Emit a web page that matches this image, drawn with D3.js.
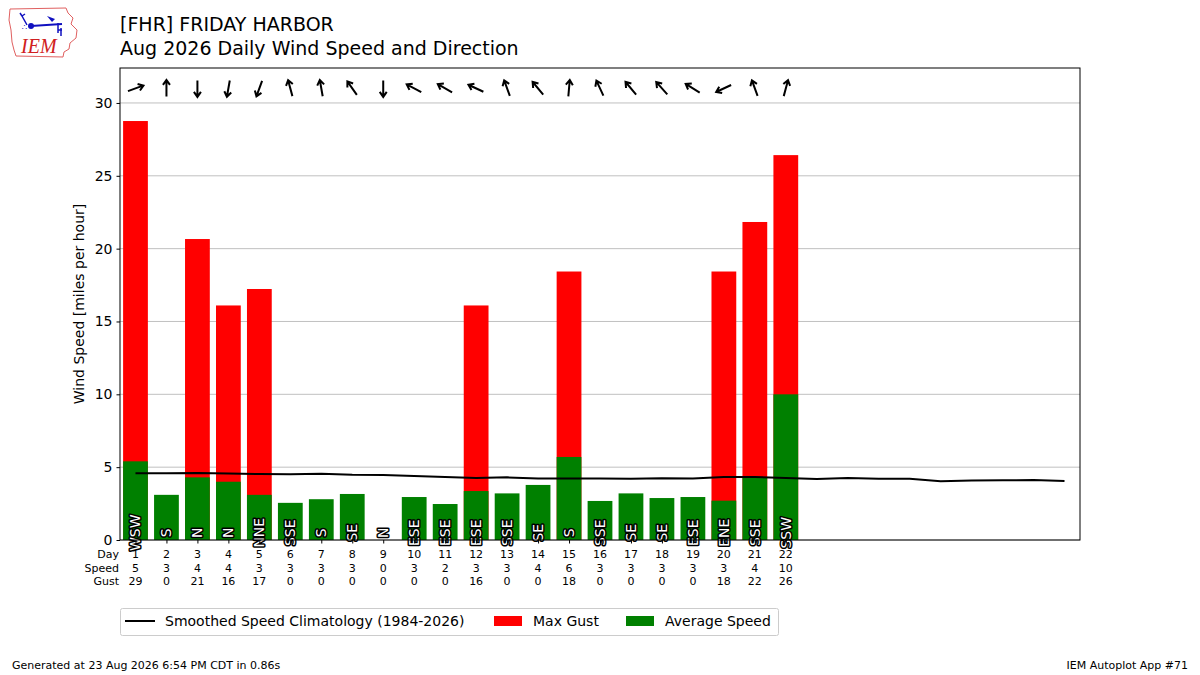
<!DOCTYPE html>
<html>
<head>
<meta charset="utf-8">
<script src="https://cdn.jsdelivr.net/npm/d3@7"></script>
<style>
  body { margin: 0; background: #fff; }
  svg { font-family: "DejaVu Sans", sans-serif; }
</style>
</head>
<body>
<div id="chart"></div>
<script>
// daily observations, Aug 2026
const days = [1, 2, 3, 4, 5, 6, 7, 8, 9, 10, 11, 12, 13, 14, 15, 16, 17, 18, 19, 20, 21, 22];
const avgSpeed = [5.4, 3.1, 4.3, 4.0, 3.1, 2.55, 2.8, 3.16, 0, 2.95, 2.47, 3.36, 3.2, 3.78, 5.7, 2.68, 3.2, 2.88, 2.95, 2.7, 4.3, 10.0];
const maxGust = [28.76, 0, 20.66, 16.1, 17.23, 0, 0, 0, 0, 0, 0, 16.1, 0, 0, 18.43, 0, 0, 0, 0, 18.43, 21.83, 26.42];
const windDir = [250, 180, 0, 10, 20, 165, 170, 145, 0, 118, 120, 115, 160, 140, 185, 155, 140, 138, 122, 65, 160, 195];
const dirLabels = ["WSW", "S", "N", "N", "NNE", "SSE", "S", "SE", "N", "ESE", "ESE", "ESE", "SSE", "SE", "S", "SSE", "SE", "SE", "ESE", "ENE", "SSE", "SSW"];
const speedLabels = ["5", "3", "4", "4", "3", "3", "3", "3", "0", "3", "2", "3", "3", "4", "6", "3", "3", "3", "3", "3", "4", "10"];
const gustLabels = ["29", "0", "21", "16", "17", "0", "0", "0", "0", "0", "0", "16", "0", "0", "18", "0", "0", "0", "0", "18", "22", "26"];

// climatology for the whole month
const climDays = d3.range(1, 32);
const climSpeed = [4.58, 4.58, 4.60, 4.57, 4.53, 4.52, 4.55, 4.48, 4.46, 4.40, 4.33, 4.25, 4.30, 4.22, 4.22, 4.22, 4.20, 4.24, 4.22, 4.33, 4.33, 4.25, 4.18, 4.25, 4.20, 4.20, 4.03, 4.08, 4.10, 4.12, 4.05];

const yTicks = [0, 5, 10, 15, 20, 25, 30];

const width = 1200, height = 675;
const margin = {top: 68, right: 120, bottom: 135, left: 120};
const chartW = width - margin.left - margin.right;
const chartH = height - margin.top - margin.bottom;

const svg = d3.select("#chart").append("svg")
  .attr("width", width)
  .attr("height", height);

// logo
const logo = svg.append("g");
logo.append("path")
  .attr("d", "M10,9 L66,8 L68,13 L73,18 L71,24 L77,30 L76,38 L70,43 L69,49 L64,52 L63,57 L16,56 L14,50 L12,42 L11,30 L9,20 Z")
  .attr("fill", "none").attr("stroke", "#e06060").attr("stroke-width", 1);
logo.append("line").attr("x1", 31).attr("y1", 26).attr("x2", 62).attr("y2", 24)
  .attr("stroke", "#1010c0").attr("stroke-width", 2);
logo.append("circle").attr("cx", 31).attr("cy", 26).attr("r", 3).attr("fill", "#1010c0");
logo.append("path").attr("d", "M27,25 L22,16 M22,16 L20,13 M22,16 L25,14").attr("stroke", "#1010c0").attr("stroke-width", 1.5).attr("fill", "none");
logo.append("path").attr("d", "M47,16 L55,19 L52,22 Z").attr("fill", "#1010c0");
logo.append("path").attr("d", "M58,23 L58,33 M58,30 L62,30 M61,28 L61,36").attr("stroke", "#1010c0").attr("stroke-width", 1.5).attr("fill", "none");
logo.append("text").attr("x", 22).attr("y", 30).attr("font-size", 8).attr("fill", "#1010c0").text("∴");
logo.append("text").attr("x", 21).attr("y", 53)
  .attr("font-family", "Liberation Serif, DejaVu Serif, serif")
  .attr("font-style", "italic").attr("font-size", 20).attr("fill", "#d02020").text("IEM");

// titles
svg.append("text").attr("x", 120).attr("y", 31).attr("font-size", 19).text("[FHR] FRIDAY HARBOR");
svg.append("text").attr("x", 120).attr("y", 55).attr("font-size", 19).text("Aug 2026 Daily Wind Speed and Direction");

const g = svg.append("g").attr("transform", `translate(${margin.left}, ${margin.top})`);

const xScale = d3.scaleLinear().domain([0.5, 31.5]).range([0, chartW]);
const yScale = d3.scaleLinear().domain([0, 32.4]).range([chartH, 0]);
const barW = (xScale(1.8) - xScale(1));

// grid
g.append("g").selectAll("line").data(yTicks).enter().append("line")
  .attr("x1", 0).attr("x2", chartW)
  .attr("y1", d => yScale(d)).attr("y2", d => yScale(d))
  .attr("stroke", "#b0b0b0").attr("stroke-width", 0.8);

// gust bars then average bars
g.append("g").selectAll("rect").data(days).enter().append("rect")
  .attr("x", (d) => xScale(d) - barW / 2)
  .attr("width", barW)
  .attr("y", (d, i) => yScale(maxGust[i]))
  .attr("height", (d, i) => yScale(0) - yScale(maxGust[i]))
  .attr("fill", "#ff0000");

g.append("g").selectAll("rect").data(days).enter().append("rect")
  .attr("x", (d) => xScale(d) - barW / 2)
  .attr("width", barW)
  .attr("y", (d, i) => yScale(avgSpeed[i]))
  .attr("height", (d, i) => yScale(0) - yScale(avgSpeed[i]))
  .attr("fill", "#008000");

// climatology line
const line = d3.line().x(d => xScale(d[0])).y(d => yScale(d[1]));
g.append("path")
  .datum(climDays.map((d, i) => [d, climSpeed[i]]))
  .attr("d", line)
  .attr("fill", "none").attr("stroke", "#000").attr("stroke-width", 2);

// direction text inside bars
g.append("g").selectAll("text").data(days).enter().append("text")
  .attr("transform", (d) => `translate(${xScale(d)}, ${yScale(0.5)}) rotate(-90)`)
  .attr("text-anchor", "middle")
  .attr("dominant-baseline", "central")
  .attr("font-size", 14)
  .attr("fill", "#fff")
  .attr("stroke", "#000").attr("stroke-width", 3)
  .attr("paint-order", "stroke")
  .attr("stroke-linejoin", "round")
  .text((d, i) => dirLabels[i]);

// wind arrows across the top
const arrows = g.append("g").selectAll("g").data(days).enter().append("g")
  .attr("transform", (d, i) => `translate(${xScale(d)}, ${yScale(31.0)}) rotate(${windDir[i] + 180})`);
arrows.append("path")
  .attr("d", "M0,8 L0,-8 M-3.5,-3.5 L0,-8.5 L3.5,-3.5")
  .attr("fill", "none").attr("stroke", "#000").attr("stroke-width", 2)
  .attr("stroke-linejoin", "miter");

// axes
const yAxis = d3.axisLeft(yScale).tickValues(yTicks).tickSize(3.5).tickPadding(4);
const yG = g.append("g").call(yAxis);
yG.select(".domain").remove();
yG.selectAll("text").attr("font-size", 14).attr("font-family", "DejaVu Sans").attr("fill", "#000");

const xAxis = d3.axisBottom(xScale).tickValues(days).tickSize(3.5).tickFormat("");
const xG = g.append("g").attr("transform", `translate(0, ${chartH})`).call(xAxis);
xG.select(".domain").remove();

g.append("rect").attr("width", chartW).attr("height", chartH)
  .attr("fill", "none").attr("stroke", "#000").attr("stroke-width", 1);

// day / speed / gust table below the axis
const rowY = [chartH + 18, chartH + 32, chartH + 45];
const table = g.append("g").attr("font-size", 11);
table.selectAll("text.lab").data(["Day", "Speed", "Gust"]).enter().append("text")
  .attr("x", -1).attr("y", (d, i) => rowY[i])
  .attr("text-anchor", "end").text(d => d);
days.forEach((d, i) => {
  [String(d), speedLabels[i], gustLabels[i]].forEach((t, r) => {
    table.append("text").attr("x", xScale(d)).attr("y", rowY[r])
      .attr("text-anchor", "middle").text(t);
  });
});

svg.append("text")
  .attr("transform", "rotate(-90)")
  .attr("x", -(margin.top + chartH / 2))
  .attr("y", 84)
  .attr("text-anchor", "middle")
  .attr("font-size", 14)
  .text("Wind Speed [miles per hour]");

// legend
const leg = svg.append("g").attr("font-size", 14);
leg.append("rect").attr("x", 120.5).attr("y", 608.5).attr("width", 658).attr("height", 27)
  .attr("rx", 2).attr("fill", "#fff").attr("stroke", "#ccc");
leg.append("line").attr("x1", 125).attr("x2", 155).attr("y1", 621).attr("y2", 621)
  .attr("stroke", "#000").attr("stroke-width", 2);
leg.append("text").attr("x", 165).attr("y", 626).text("Smoothed Speed Climatology (1984-2026)");
leg.append("rect").attr("x", 494).attr("y", 616).attr("width", 28).attr("height", 10).attr("fill", "#ff0000");
leg.append("text").attr("x", 533).attr("y", 626).text("Max Gust");
leg.append("rect").attr("x", 626).attr("y", 616).attr("width", 28).attr("height", 10).attr("fill", "#008000");
leg.append("text").attr("x", 665).attr("y", 626).text("Average Speed");

// footer
svg.append("text").attr("x", 12).attr("y", 669).attr("font-size", 11)
  .text("Generated at 23 Aug 2026 6:54 PM CDT in 0.86s");
svg.append("text").attr("x", 1188).attr("y", 669).attr("font-size", 11)
  .attr("text-anchor", "end").text("IEM Autoplot App #71");
</script>
</body>
</html>
